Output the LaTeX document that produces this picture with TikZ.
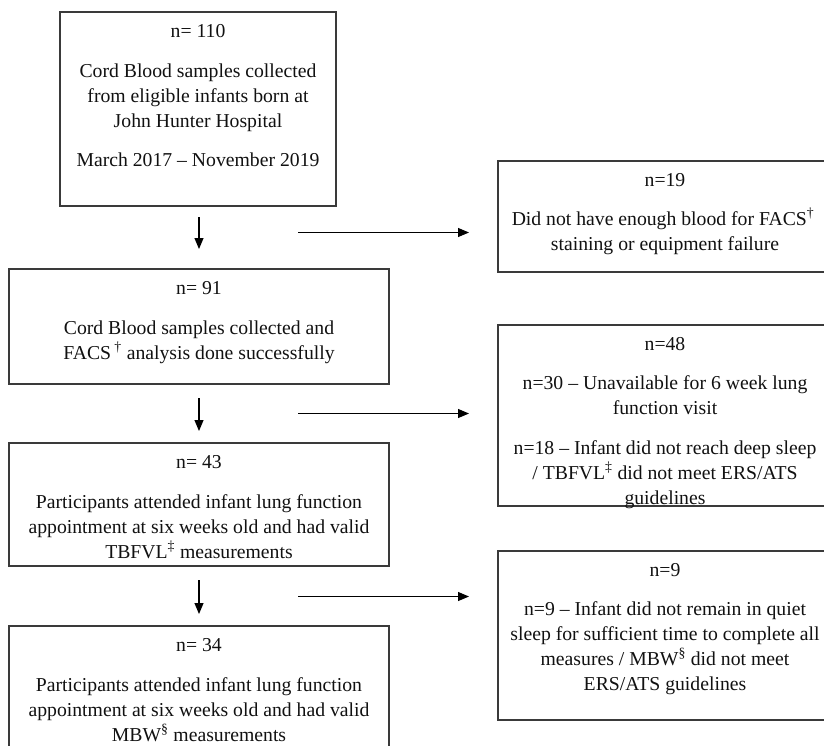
\documentclass[tikz,border=0pt]{standalone}
\usepackage{fontspec}
\setmainfont{Liberation Serif}
\usetikzlibrary{arrows.meta}
\definecolor{edge}{HTML}{3A3A3A}
\definecolor{ink}{HTML}{111111}
\begin{document}
\begin{tikzpicture}[x=1pt,y=-1pt,
  box/.style={draw=edge, line width=1.2pt, rectangle, inner sep=0pt},
  ln/.style={anchor=base, inner sep=0pt, text=ink, font=\fontsize{19.7pt}{25pt}\selectfont},
  arr/.style={draw=black, line width=1.1pt, -{Triangle[length=11pt,width=9pt]}}]
\useasboundingbox (0,0) rectangle (824,745);
\clip (0,0) rectangle (824,745);
\fill[white] (0,0) rectangle (824,745);
% boxes
\node[box, minimum width=276pt, minimum height=194pt] (b1) at (198,109) {};
\node[box, minimum width=334pt, minimum height=111pt] (b19) at (665,216.5) {};
\node[box, minimum width=380pt, minimum height=115pt] (b91) at (199,326.5) {};
\node[box, minimum width=334pt, minimum height=181pt] (b48) at (665,415.5) {};
\node[box, minimum width=380pt, minimum height=123pt] (b43) at (199,504.5) {};
\node[box, minimum width=334pt, minimum height=169pt] (b9) at (665,635.5) {};
\node[box, minimum width=380pt, minimum height=134pt] (b34) at (199,693) {};
% box 1 text
\node[ln] (t1a) at (198,37) {n= 110};
\node[ln] (t1b) at (198,77) {Cord Blood samples collected};
\node[ln] (t1c) at (198,102) {from eligible infants born at};
\node[ln] (t1d) at (198,127) {John Hunter Hospital};
\node[ln] (t1e) at (198,166) {March 2017 – November 2019};
% box 19 text
\node[ln] (t2a) at (665,186) {n=19};
\node[ln] (t2b) at (663,225) {Did not have enough blood for FACS\textsuperscript{†}};
\node[ln] (t2c) at (665,250) {staining or equipment failure};
% box 91 text
\node[ln] (t3a) at (199,294) {n= 91};
\node[ln] (t3b) at (199,334) {Cord Blood samples collected and};
\node[ln] (t3c) at (199,359) {FACS\,\textsuperscript{†} analysis done successfully};
% box 48 text
\node[ln] (t4a) at (665,350) {n=48};
\node[ln] (t4b) at (665,389) {n=30 – Unavailable for 6 week lung};
\node[ln] (t4c) at (665,414) {function visit};
\node[ln] (t4d) at (665,454) {n=18 – Infant did not reach deep sleep};
\node[ln] (t4e) at (665,479) {/ TBFVL\textsuperscript{‡} did not meet ERS/ATS};
\node[ln] (t4f) at (665,504) {guidelines};
% box 43 text
\node[ln] (t5a) at (199,468) {n= 43};
\node[ln] (t5b) at (199,508) {Participants attended infant lung function};
\node[ln] (t5c) at (199,533) {appointment at six weeks old and had valid};
\node[ln] (t5d) at (199,558) {TBFVL\textsuperscript{‡} measurements};
% box 9 text
\node[ln] (t6a) at (665,576) {n=9};
\node[ln] (t6b) at (665,615) {n=9 – Infant did not remain in quiet};
\node[ln] (t6c) at (665,640) {sleep for sufficient time to complete all};
\node[ln] (t6d) at (665,665) {measures / MBW\textsuperscript{§} did not meet};
\node[ln] (t6e) at (665,690) {ERS/ATS guidelines};
% box 34 text
\node[ln] (t7a) at (199,651) {n= 34};
\node[ln] (t7b) at (199,691) {Participants attended infant lung function};
\node[ln] (t7c) at (199,716) {appointment at six weeks old and had valid};
\node[ln] (t7d) at (199,741) {MBW\textsuperscript{§} measurements};
% connector end points
\coordinate (v1s) at (199,217); \coordinate (v1e) at (199,249);
\coordinate (v2s) at (199,398); \coordinate (v2e) at (199,431);
\coordinate (v3s) at (199,580); \coordinate (v3e) at (199,614);
\coordinate (h1s) at (298,232.5); \coordinate (h1e) at (469,232.5);
\coordinate (h2s) at (298,413.5); \coordinate (h2e) at (469,413.5);
\coordinate (h3s) at (298,596.5); \coordinate (h3e) at (469,596.5);
\draw[arr] (v1s) -- (v1e);
\draw[arr] (v2s) -- (v2e);
\draw[arr] (v3s) -- (v3e);
\draw[arr] (h1s) -- (h1e);
\draw[arr] (h2s) -- (h2e);
\draw[arr] (h3s) -- (h3e);
\end{tikzpicture}
\end{document}
